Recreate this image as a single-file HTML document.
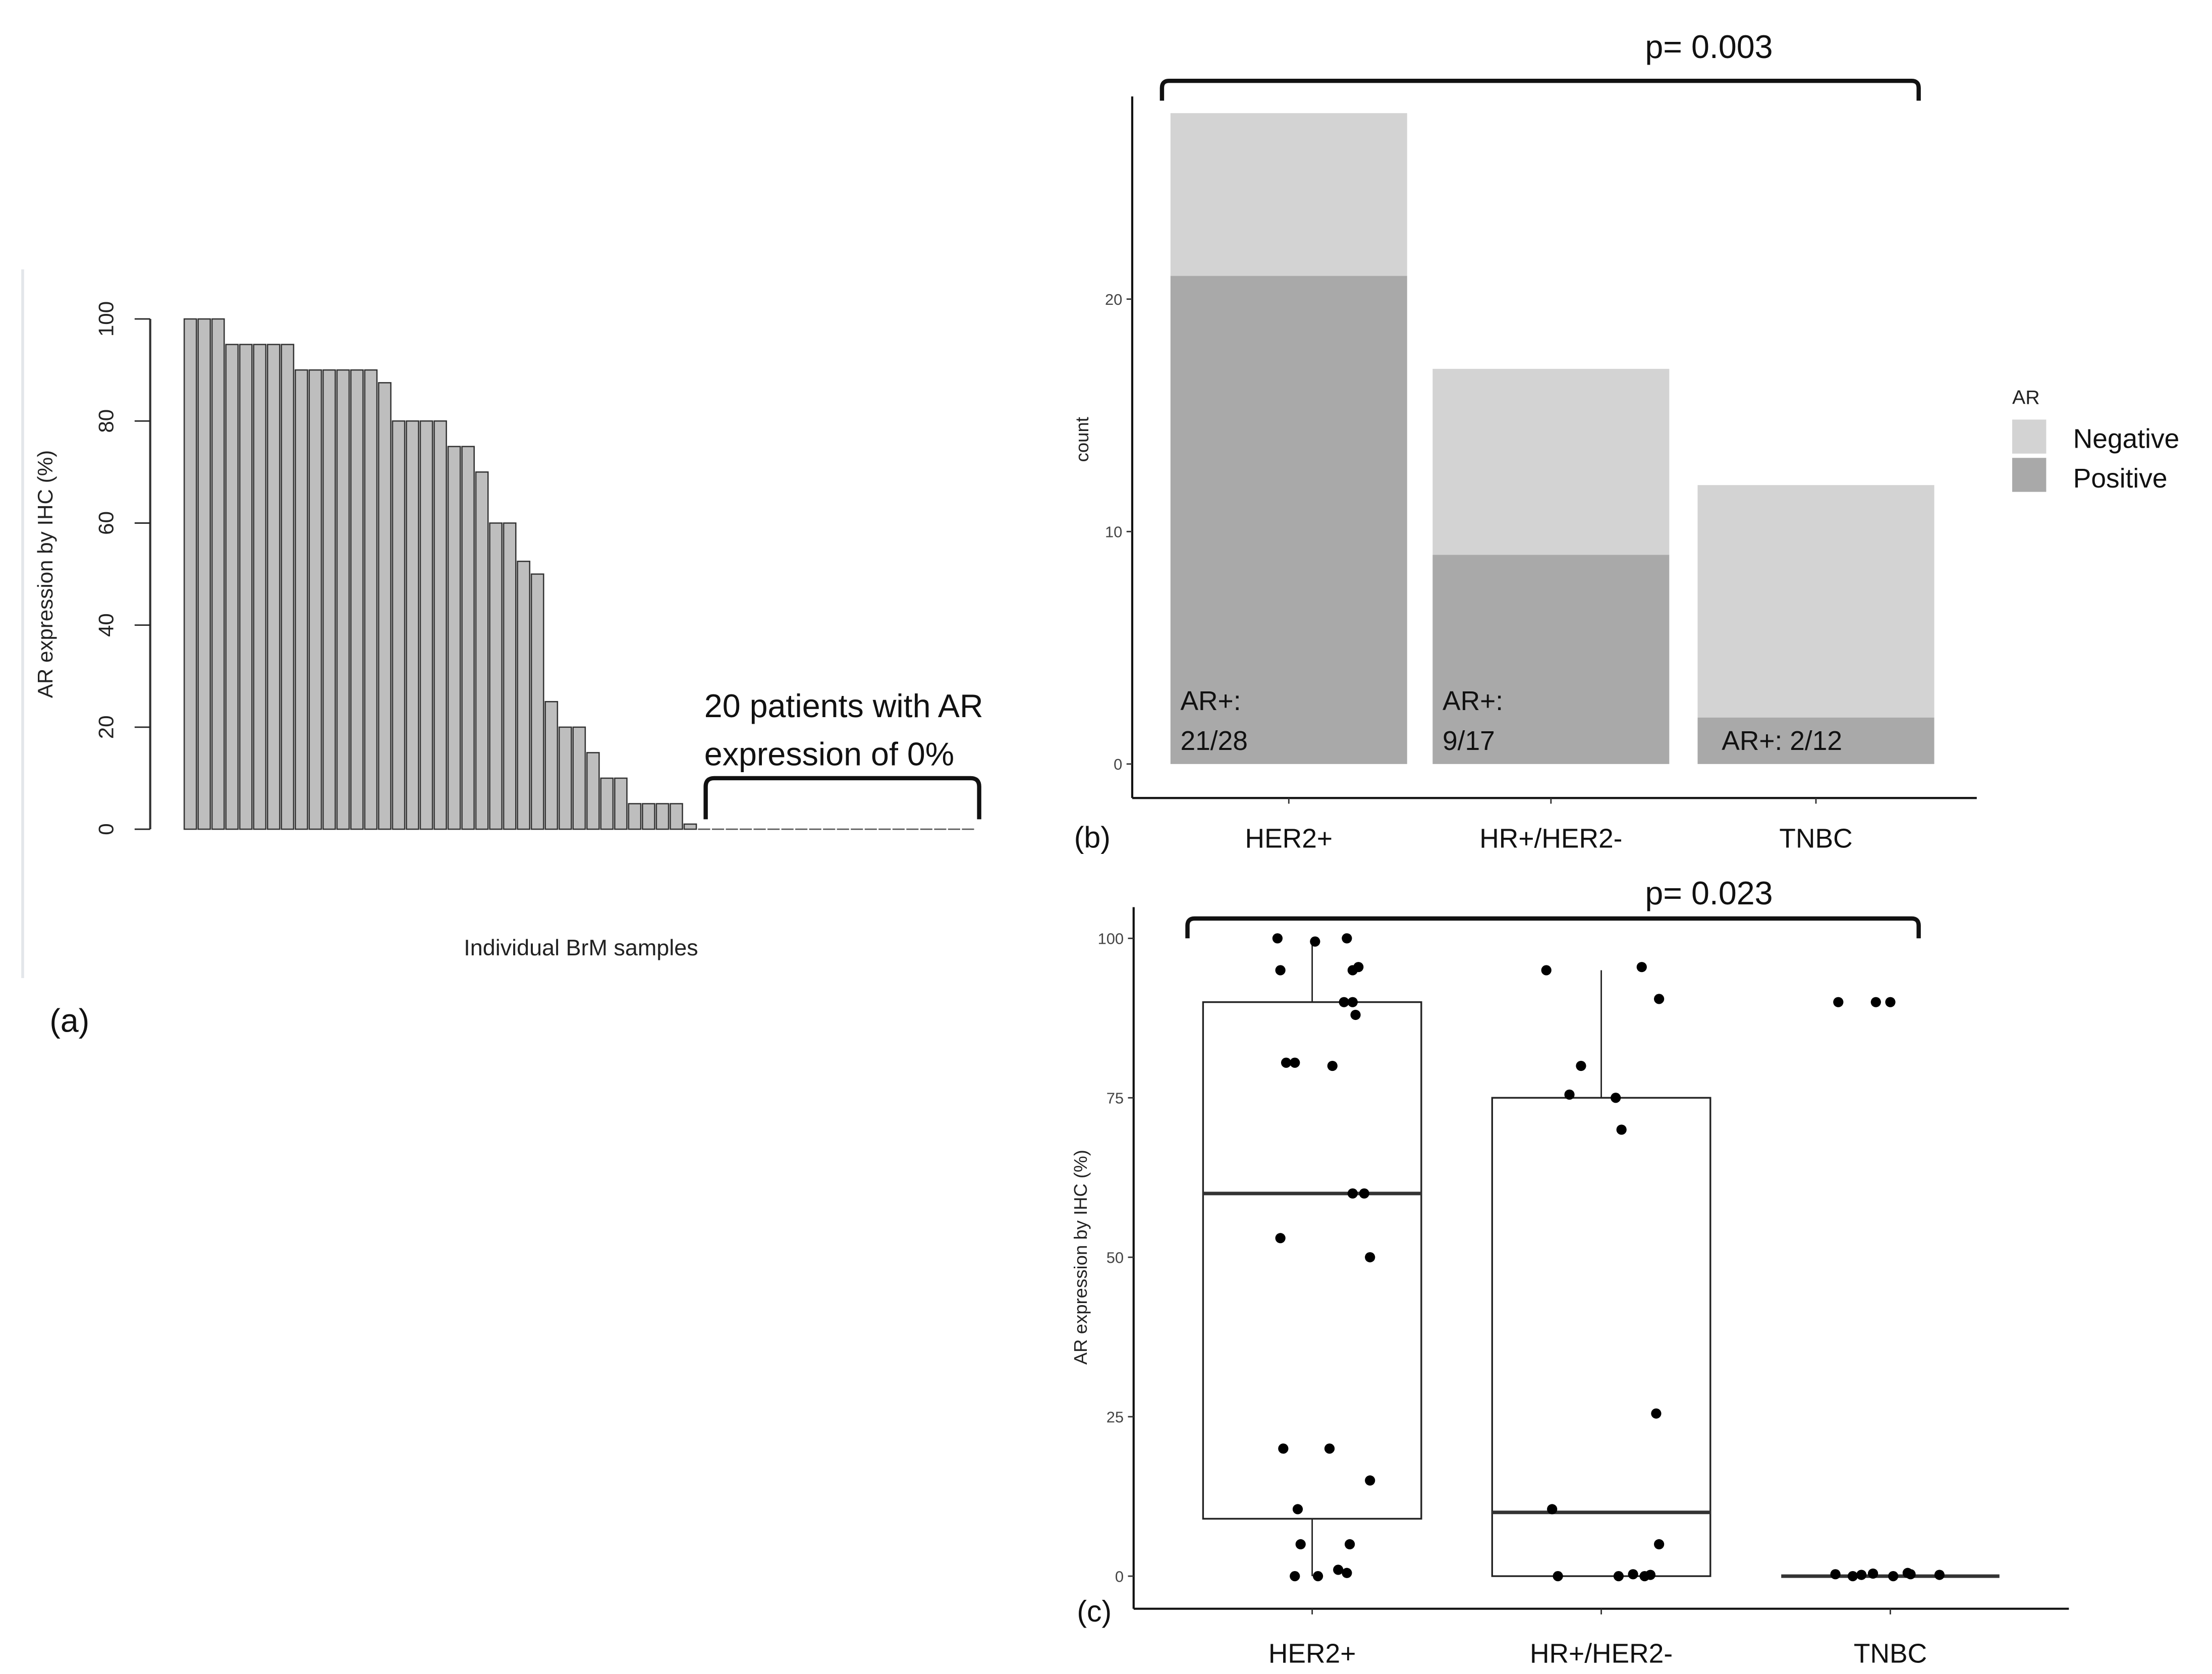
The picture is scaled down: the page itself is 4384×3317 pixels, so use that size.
<!DOCTYPE html>
<html><head><meta charset="utf-8"><style>
html,body{margin:0;padding:0;background:#fff;}
svg{display:block;font-family:"Liberation Sans",sans-serif;}
</style></head><body>
<svg id="fig" width="4384" height="3317" viewBox="0 0 1561 1181" xmlns="http://www.w3.org/2000/svg">
<g id="pa"></g>
<g id="pb"></g>
<g id="pc"></g>
</svg>
<script>
// Panel a data
const aValues = [100,100,100,95,95,95,95,95,90,90,90,90,90,90,87.5,80,80,80,80,75,75,70,60,60,52.5,50,25,20,20,15,10,10,5,5,5,5,1,0,0,0,0,0,0,0,0,0,0,0,0,0,0,0,0,0,0,0,0];
const aTicks = [0,20,40,60,80,100];
// Panel b data
const bCats = ["HER2+","HR+/HER2-","TNBC"];
const bTotal = [28,17,12];
const bPositive = [21,9,2];
const bTicks = [0,10,20];
// Panel c data
const cCats = ["HER2+","HR+/HER2-","TNBC"];
const cTicks = [0,25,50,75,100];
const cQ1 = [9,0,0];
const cMedian = [60,10,0];
const cQ3 = [90,75,0];
const cWhiskLo = [0,0,0];
const cWhiskHi = [100,95,0];
const cPtCat = [0,0,0,0,0,0,0,0,0,0,0,0,0,0,0,0,0,0,0,0,0,0,0,0,0,0, 1,1,1,1,1,1,1,1,1,1,1,1,1,1,1, 2,2,2,2,2,2,2,2,2,2,2];
const cPtVal = [100,99.5,100,95,95,95.5,90,90,88,80.5,80.5,80,60,60,53,50,20,20,15,10.5,5,5,0,0,1,0.5, 95,95.5,90.5,80,75.5,75,70,25.5,10.5,5,0,0,0.3,0,0.2, 90,90,90,0.3,0,0.2,0.4,0,0.5,0.3,0.2];
const cPtJitter = [-0.12,0.01,0.12,-0.11,0.14,0.16,0.11,0.14,0.15,-0.09,-0.06,0.07,0.14,0.18,-0.11,0.2,-0.1,0.06,0.2,-0.05,-0.04,0.13,-0.06,0.02,0.09,0.12, -0.19,0.14,0.2,-0.07,-0.11,0.05,0.07,0.19,-0.17,0.2,-0.15,0.06,0.11,0.15,0.17, -0.18,-0.05,0,-0.19,-0.13,-0.1,-0.06,0.01,0.06,0.07,0.17];

const NS="http://www.w3.org/2000/svg";
function mk(parent,tag,attrs,text){const e=document.createElementNS(NS,tag);for(const k in attrs)e.setAttribute(k,attrs[k]);if(text!==undefined)e.textContent=text;parent.appendChild(e);return e;}

// ---------- Panel A ----------
const pa=document.getElementById('pa');
const ayA=v=>585-(v/100)*360;
const axA=i=>130+i*9.8;
let e;
e=mk(pa,'line',{x1:16,y1:190,x2:16,y2:690,stroke:'#e3e6ea','stroke-width':2});


e=mk(pa,'line',{x1:106,y1:ayA(0),x2:106,y2:ayA(100),stroke:'#333','stroke-width':1.5});


aTicks.forEach(t=>{
  e=mk(pa,'line',{x1:95,y1:ayA(t),x2:106,y2:ayA(t),stroke:'#222','stroke-width':1});
  
  
  e=mk(pa,'text',{x:0,y:0,transform:`translate(80,${ayA(t)}) rotate(-90)`,'text-anchor':'middle','font-size':15,fill:'#222'},String(t));
  
  
});
aValues.forEach((v,i)=>{
  if(v>0){
    e=mk(pa,'rect',{x:axA(i),y:ayA(v),width:8.6,height:ayA(0)-ayA(v),fill:'#bebebe',stroke:'#333','stroke-width':0.9});
  } else {
    e=mk(pa,'line',{x1:axA(i),y1:ayA(0),x2:axA(i)+8.6,y2:ayA(0),stroke:'#555','stroke-width':0.9});
  }
  
  
});
e=mk(pa,'text',{x:0,y:0,transform:'translate(37,405) rotate(-90)','text-anchor':'middle','font-size':15,fill:'#222'},'AR expression by IHC (%)');


e=mk(pa,'text',{x:410,y:674,'text-anchor':'middle','font-size':16,fill:'#222'},'Individual BrM samples');


e=mk(pa,'text',{x:35,y:728,'font-size':23,fill:'#111'},'(a)');


e=mk(pa,'text',{x:497,y:506,'font-size':23,fill:'#111'},'20 patients with AR');


e=mk(pa,'text',{x:497,y:540,'font-size':23,fill:'#111'},'expression of 0%');


e=mk(pa,'path',{d:'M498,578 L498,555 Q498,549 504,549 L685,549 Q691,549 691,555 L691,578',fill:'none',stroke:'#111','stroke-width':3});



// ---------- Panel B ----------
const pb=document.getElementById('pb');
const yB=v=>539-v*16.4;
const bLeft=[826,1011,1198], bW=167;
e=mk(pb,'line',{x1:799,y1:68,x2:799,y2:563,stroke:'#111','stroke-width':1.5});


e=mk(pb,'line',{x1:799,y1:563,x2:1395,y2:563,stroke:'#111','stroke-width':1.5});


bTicks.forEach(t=>{
  e=mk(pb,'line',{x1:795,y1:yB(t),x2:799,y2:yB(t),stroke:'#333','stroke-width':1});
  
  
  e=mk(pb,'text',{x:792,y:yB(t)+4,'text-anchor':'end','font-size':11,fill:'#444'},String(t));
  
  
});
bCats.forEach((c,i)=>{
  e=mk(pb,'rect',{x:bLeft[i],y:yB(bTotal[i]),width:bW,height:yB(bPositive[i])-yB(bTotal[i]),fill:'#d3d3d3'});
  
  
  e=mk(pb,'rect',{x:bLeft[i],y:yB(bPositive[i]),width:bW,height:yB(0)-yB(bPositive[i]),fill:'#a9a9a9'});
  
  
  const cx=bLeft[i]+bW/2;
  e=mk(pb,'line',{x1:cx,y1:563,x2:cx,y2:567,stroke:'#333','stroke-width':1});
  
  
  e=mk(pb,'text',{x:cx,y:598,'text-anchor':'middle','font-size':19,fill:'#111'},c);
  
  
  if(i<2){
    e=mk(pb,'text',{x:bLeft[i]+7,y:501,'font-size':19,fill:'#111'},'AR+:');
    
    
    e=mk(pb,'text',{x:bLeft[i]+7,y:529,'font-size':19,fill:'#111'},bPositive[i]+'/'+bTotal[i]);
    
    
  } else {
    e=mk(pb,'text',{x:bLeft[i]+17,y:529,'font-size':19,fill:'#111'},'AR+: '+bPositive[i]+'/'+bTotal[i]);
    
    
  }
});
e=mk(pb,'text',{x:0,y:0,transform:'translate(768,310) rotate(-90)','text-anchor':'middle','font-size':13,fill:'#222'},'count');


e=mk(pb,'text',{x:758,y:598,'font-size':21,fill:'#111'},'(b)');


e=mk(pb,'path',{d:'M820,71 L820,62 Q820,57 825,57 L1349,57 Q1354,57 1354,62 L1354,71',fill:'none',stroke:'#111','stroke-width':3});


e=mk(pb,'text',{x:1206,y:41,'text-anchor':'middle','font-size':23,fill:'#111'},'p= 0.003');


e=mk(pb,'text',{x:1420,y:285,'font-size':14,fill:'#222'},'AR');


e=mk(pb,'rect',{x:1420,y:296,width:24,height:24,fill:'#d3d3d3'});


e=mk(pb,'rect',{x:1420,y:323,width:24,height:24,fill:'#a9a9a9'});


e=mk(pb,'text',{x:1463,y:316,'font-size':19,fill:'#111'},'Negative');


e=mk(pb,'text',{x:1463,y:344,'font-size':19,fill:'#111'},'Positive');



// ---------- Panel C ----------
const pc=document.getElementById('pc');
const yC=v=>1112-v*4.5;
const xC=i=>926+i*204;
const boxHalf=77;
e=mk(pc,'line',{x1:800,y1:640,x2:800,y2:1135,stroke:'#111','stroke-width':1.5});


e=mk(pc,'line',{x1:800,y1:1135,x2:1460,y2:1135,stroke:'#111','stroke-width':1.5});


cTicks.forEach(t=>{
  e=mk(pc,'line',{x1:796,y1:yC(t),x2:800,y2:yC(t),stroke:'#333','stroke-width':1});
  
  
  e=mk(pc,'text',{x:793,y:yC(t)+4,'text-anchor':'end','font-size':11,fill:'#444'},String(t));
  
  
});
cCats.forEach((c,i)=>{
  const cx=xC(i);
  e=mk(pc,'line',{x1:cx,y1:yC(cWhiskHi[i]),x2:cx,y2:yC(cQ3[i]),stroke:'#222','stroke-width':1});
  
  
  e=mk(pc,'line',{x1:cx,y1:yC(cQ1[i]),x2:cx,y2:yC(cWhiskLo[i]),stroke:'#222','stroke-width':1});
  
  
  e=mk(pc,'rect',{x:cx-boxHalf,y:yC(cQ3[i]),width:boxHalf*2,height:Math.max(0,yC(cQ1[i])-yC(cQ3[i])),fill:'#fff',stroke:'#222','stroke-width':1.2});
  
  
  e=mk(pc,'line',{x1:cx-boxHalf,y1:yC(cMedian[i]),x2:cx+boxHalf,y2:yC(cMedian[i]),stroke:'#333','stroke-width':2.5});
  
  
  e=mk(pc,'line',{x1:cx,y1:1135,x2:cx,y2:1139,stroke:'#333','stroke-width':1});
  
  
  e=mk(pc,'text',{x:cx,y:1173,'text-anchor':'middle','font-size':19,fill:'#111'},c);
  
  
});
cPtVal.forEach((v,k)=>{
  e=mk(pc,'circle',{cx:xC(cPtCat[k])+cPtJitter[k]*204,cy:yC(v),r:3.6,fill:'#000'});
  
  
});
e=mk(pc,'text',{x:0,y:0,transform:'translate(767,887) rotate(-90)','text-anchor':'middle','font-size':13,fill:'#222'},'AR expression by IHC (%)');


e=mk(pc,'text',{x:760,y:1144,'font-size':21,fill:'#111'},'(c)');


e=mk(pc,'path',{d:'M838,662 L838,653 Q838,648 843,648 L1349,648 Q1354,648 1354,653 L1354,662',fill:'none',stroke:'#111','stroke-width':3});


e=mk(pc,'text',{x:1206,y:638,'text-anchor':'middle','font-size':23,fill:'#111'},'p= 0.023');


</script>
</body></html>
